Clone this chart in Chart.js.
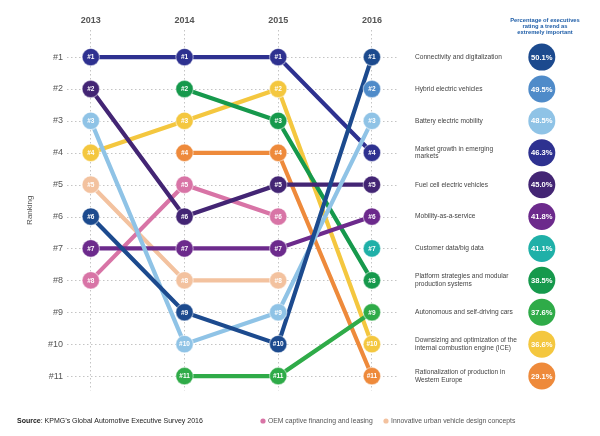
<!DOCTYPE html>
<html><head><meta charset="utf-8">
<script src="https://cdn.jsdelivr.net/npm/chart.js@4.4.0/dist/chart.umd.min.js"></script>
<style>html,body{margin:0;padding:0;background:#fff}#wrap{position:relative;width:600px;height:436px}</style>
</head><body><div id="wrap"><canvas id="c" width="600" height="436"></canvas></div>
<script>
// ---- data ----
const years = [2013, 2014, 2015, 2016];
const rankTicks = [1, 2, 3, 4, 5, 6, 7, 8, 9, 10, 11];
const trendNames = [
  "Connectivity and digitalization",
  "Hybrid electric vehicles",
  "Battery electric mobility",
  "Market growth in emerging markets",
  "Fuel cell electric vehicles",
  "Mobility-as-a-service",
  "Customer data/big data",
  "Platform strategies and modular production systems",
  "Autonomous and self-driving cars",
  "Downsizing and optimization of the internal combustion engine (ICE)",
  "Rationalization of production in Western Europe",
  "OEM captive financing and leasing",
  "Innovative urban vehicle design concepts"
];
const trendLabelLines = [
  ["Connectivity and digitalization"],
  ["Hybrid electric vehicles"],
  ["Battery electric mobility"],
  ["Market growth in emerging", "markets"],
  ["Fuel cell electric vehicles"],
  ["Mobility-as-a-service"],
  ["Customer data/big data"],
  ["Platform strategies and modular", "production systems"],
  ["Autonomous and self-driving cars"],
  ["Downsizing and optimization of the", "internal combustion engine (ICE)"],
  ["Rationalization of production in", "Western Europe"]
];
const connectivityRanks    = [6, 9, 10, 1];
const hybridRanks          = [null, null, null, 2];
const batteryRanks         = [3, 10, 9, 3];
const marketGrowthRanks    = [1, 1, 1, 4];
const fuelCellRanks        = [2, 6, 5, 5];
const mobilityServiceRanks = [7, 7, 7, 6];
const customerDataRanks    = [null, null, null, 7];
const platformRanks        = [null, 2, 3, 8];
const autonomousRanks      = [null, 11, 11, 9];
const downsizingRanks      = [4, 3, 2, 10];
const rationalizationRanks = [null, 4, 4, 11];
const oemCaptiveRanks      = [8, 5, 6, null];
const urbanDesignRanks     = [5, 8, 8, null];
const pct2016 = [50.1, 49.5, 48.5, 46.3, 45.0, 41.8, 41.1, 38.5, 37.6, 36.6, 29.1];

const seriesRanks = [connectivityRanks, hybridRanks, batteryRanks, marketGrowthRanks, fuelCellRanks,
  mobilityServiceRanks, customerDataRanks, platformRanks, autonomousRanks, downsizingRanks,
  rationalizationRanks, oemCaptiveRanks, urbanDesignRanks];

// ---- styles ----
const colors = ["#1c4a8e", "#4f8bc9", "#8fc3e6", "#2e3190", "#432574", "#6c2a8c", "#1fb0a8",
  "#16994c", "#2fab48", "#f4c73f", "#ee8a3b", "#d874a6", "#f3c29f"];
const FONT = "'Liberation Sans', Arial, Helvetica, sans-serif";
const X_MIN = 2012.746, X_MAX = 2018.290, CIRCLE_X = 2017.813, GRID_END = 2016.276;

const pointSets = seriesRanks.map((r, i) => ({
  type: 'line', label: trendNames[i] + ' points',
  data: years.map((yr, j) => ({ x: yr, y: r[j] })),
  showLine: false, pointRadius: 8.7, pointBackgroundColor: colors[i],
  pointBorderColor: 'rgba(255,255,255,0.45)', pointBorderWidth: 1.2, clip: false, _pts: true
}));
const lineSets = seriesRanks.map((r, i) => ({
  type: 'line', label: trendNames[i],
  data: years.map((yr, j) => ({ x: yr, y: r[j] })),
  borderColor: colors[i], borderWidth: 4.2, pointRadius: 0, spanGaps: false, tension: 0, fill: false, clip: false
}));
const circleSet = {
  type: 'bubble', label: 'pct',
  data: pct2016.map((p, i) => ({ x: CIRCLE_X, y: i + 1, r: 13.5 })),
  backgroundColor: colors.slice(0, pct2016.length), borderWidth: 0, clip: false, _pct: true
};

const gridPlugin = {
  id: 'rowGrid',
  beforeDatasetsDraw(chart) {
    const ctx = chart.ctx, ys = chart.scales.y, xs = chart.scales.x;
    const x0 = chart.chartArea.left, x1 = xs.getPixelForValue(GRID_END);
    ctx.save();
    ctx.strokeStyle = '#c4c4c4'; ctx.lineWidth = 1; ctx.setLineDash([1.5, 2.5]);
    rankTicks.forEach(v => {
      const y = Math.round(ys.getPixelForValue(v)) + 0.5;
      ctx.beginPath(); ctx.moveTo(x0, y); ctx.lineTo(x1, y); ctx.stroke();
    });
    ctx.restore();
  }
};

const textPlugin = {
  id: 'texts',
  afterDatasetsDraw(chart) {
    const ctx = chart.ctx, ys = chart.scales.y;
    ctx.save();
    ctx.textAlign = 'center'; ctx.textBaseline = 'middle';
    chart.data.datasets.forEach((ds, di) => {
      if (!ds._pts) return;
      const meta = chart.getDatasetMeta(di);
      ctx.font = "bold 6.5px " + FONT; ctx.fillStyle = '#fff';
      meta.data.forEach((pt, j) => {
        const v = ds.data[j].y;
        if (v == null) return;
        ctx.fillText('#' + v, pt.x, pt.y + 0.5);
      });
    });
    const cm = chart.getDatasetMeta(0);
    ctx.font = "bold 7.6px " + FONT; ctx.fillStyle = '#fff';
    cm.data.forEach((pt, j) => ctx.fillText(pct2016[j].toFixed(1) + '%', pt.x, pt.y + 0.5));
    ctx.textAlign = 'left'; ctx.font = "6.6px " + FONT; ctx.fillStyle = '#444';
    trendLabelLines.forEach((lines, i) => {
      const yc = ys.getPixelForValue(i + 1);
      const lh = 7.6, y0 = yc - (lines.length - 1) * lh / 2;
      lines.forEach((t, k) => ctx.fillText(t, 415, y0 + k * lh));
    });
    ctx.textAlign = 'center'; ctx.font = "bold 5.8px " + FONT; ctx.fillStyle = '#1f5ea8';
    ["Percentage of executives", "rating a trend as", "extremely important"].forEach((t, k) => ctx.fillText(t, 545, 20 + k * 6));
    ctx.textAlign = 'left'; ctx.fillStyle = '#222';
    ctx.font = "bold 7px " + FONT; ctx.fillText('Source', 17, 421);
    let w = ctx.measureText('Source').width;
    ctx.font = "7px " + FONT; ctx.fillText(": KPMG\u2019s Global Automotive Executive Survey 2016", 17 + w, 421);
    ctx.fillStyle = colors[11]; ctx.beginPath(); ctx.arc(263, 421, 2.6, 0, Math.PI * 2); ctx.fill();
    ctx.fillStyle = colors[12]; ctx.beginPath(); ctx.arc(386, 421, 2.6, 0, Math.PI * 2); ctx.fill();
    ctx.fillStyle = '#555'; ctx.font = "6.8px " + FONT;
    ctx.fillText(trendNames[11], 268, 421);
    ctx.fillText(trendNames[12], 391, 421);
    ctx.restore();
  }
};

new Chart(document.getElementById('c'), {
  type: 'line',
  data: { datasets: [circleSet, ...pointSets, ...lineSets] },
  options: {
    responsive: false, animation: false, events: [],
    layout: { padding: { left: 0, right: 10, top: 0, bottom: 45.6 } },
    plugins: { legend: { display: false }, tooltip: { enabled: false } },
    scales: {
      x: {
        type: 'linear', position: 'top', min: X_MIN, max: X_MAX,
        afterBuildTicks: s => { s.ticks = years.map(v => ({ value: v })); },
        afterFit: s => { s.height = 30; },
        grid: { color: '#c4c4c4', lineWidth: 1, drawTicks: false },
        border: { display: false, dash: [1.5, 2.5] },
        ticks: { callback: v => String(v), font: { family: FONT, size: 9, weight: 'bold' }, color: '#555', padding: 4.5, maxRotation: 0 }
      },
      y: {
        type: 'linear', reverse: true, min: 0.15, max: 11.45,
        afterBuildTicks: s => { s.ticks = rankTicks.map(v => ({ value: v })); },
        afterFit: s => { s.width = 67; },
        grid: { display: false, drawTicks: false },
        border: { display: false },
        ticks: { callback: v => '#' + v, font: { family: FONT, size: 9 }, color: '#555', padding: 4 },
        title: { display: true, text: 'Ranking', font: { family: FONT, size: 8 }, color: '#555', padding: { top: 25, bottom: 0 } }
      }
    }
  },
  plugins: [gridPlugin, textPlugin]
});
</script></body></html>
